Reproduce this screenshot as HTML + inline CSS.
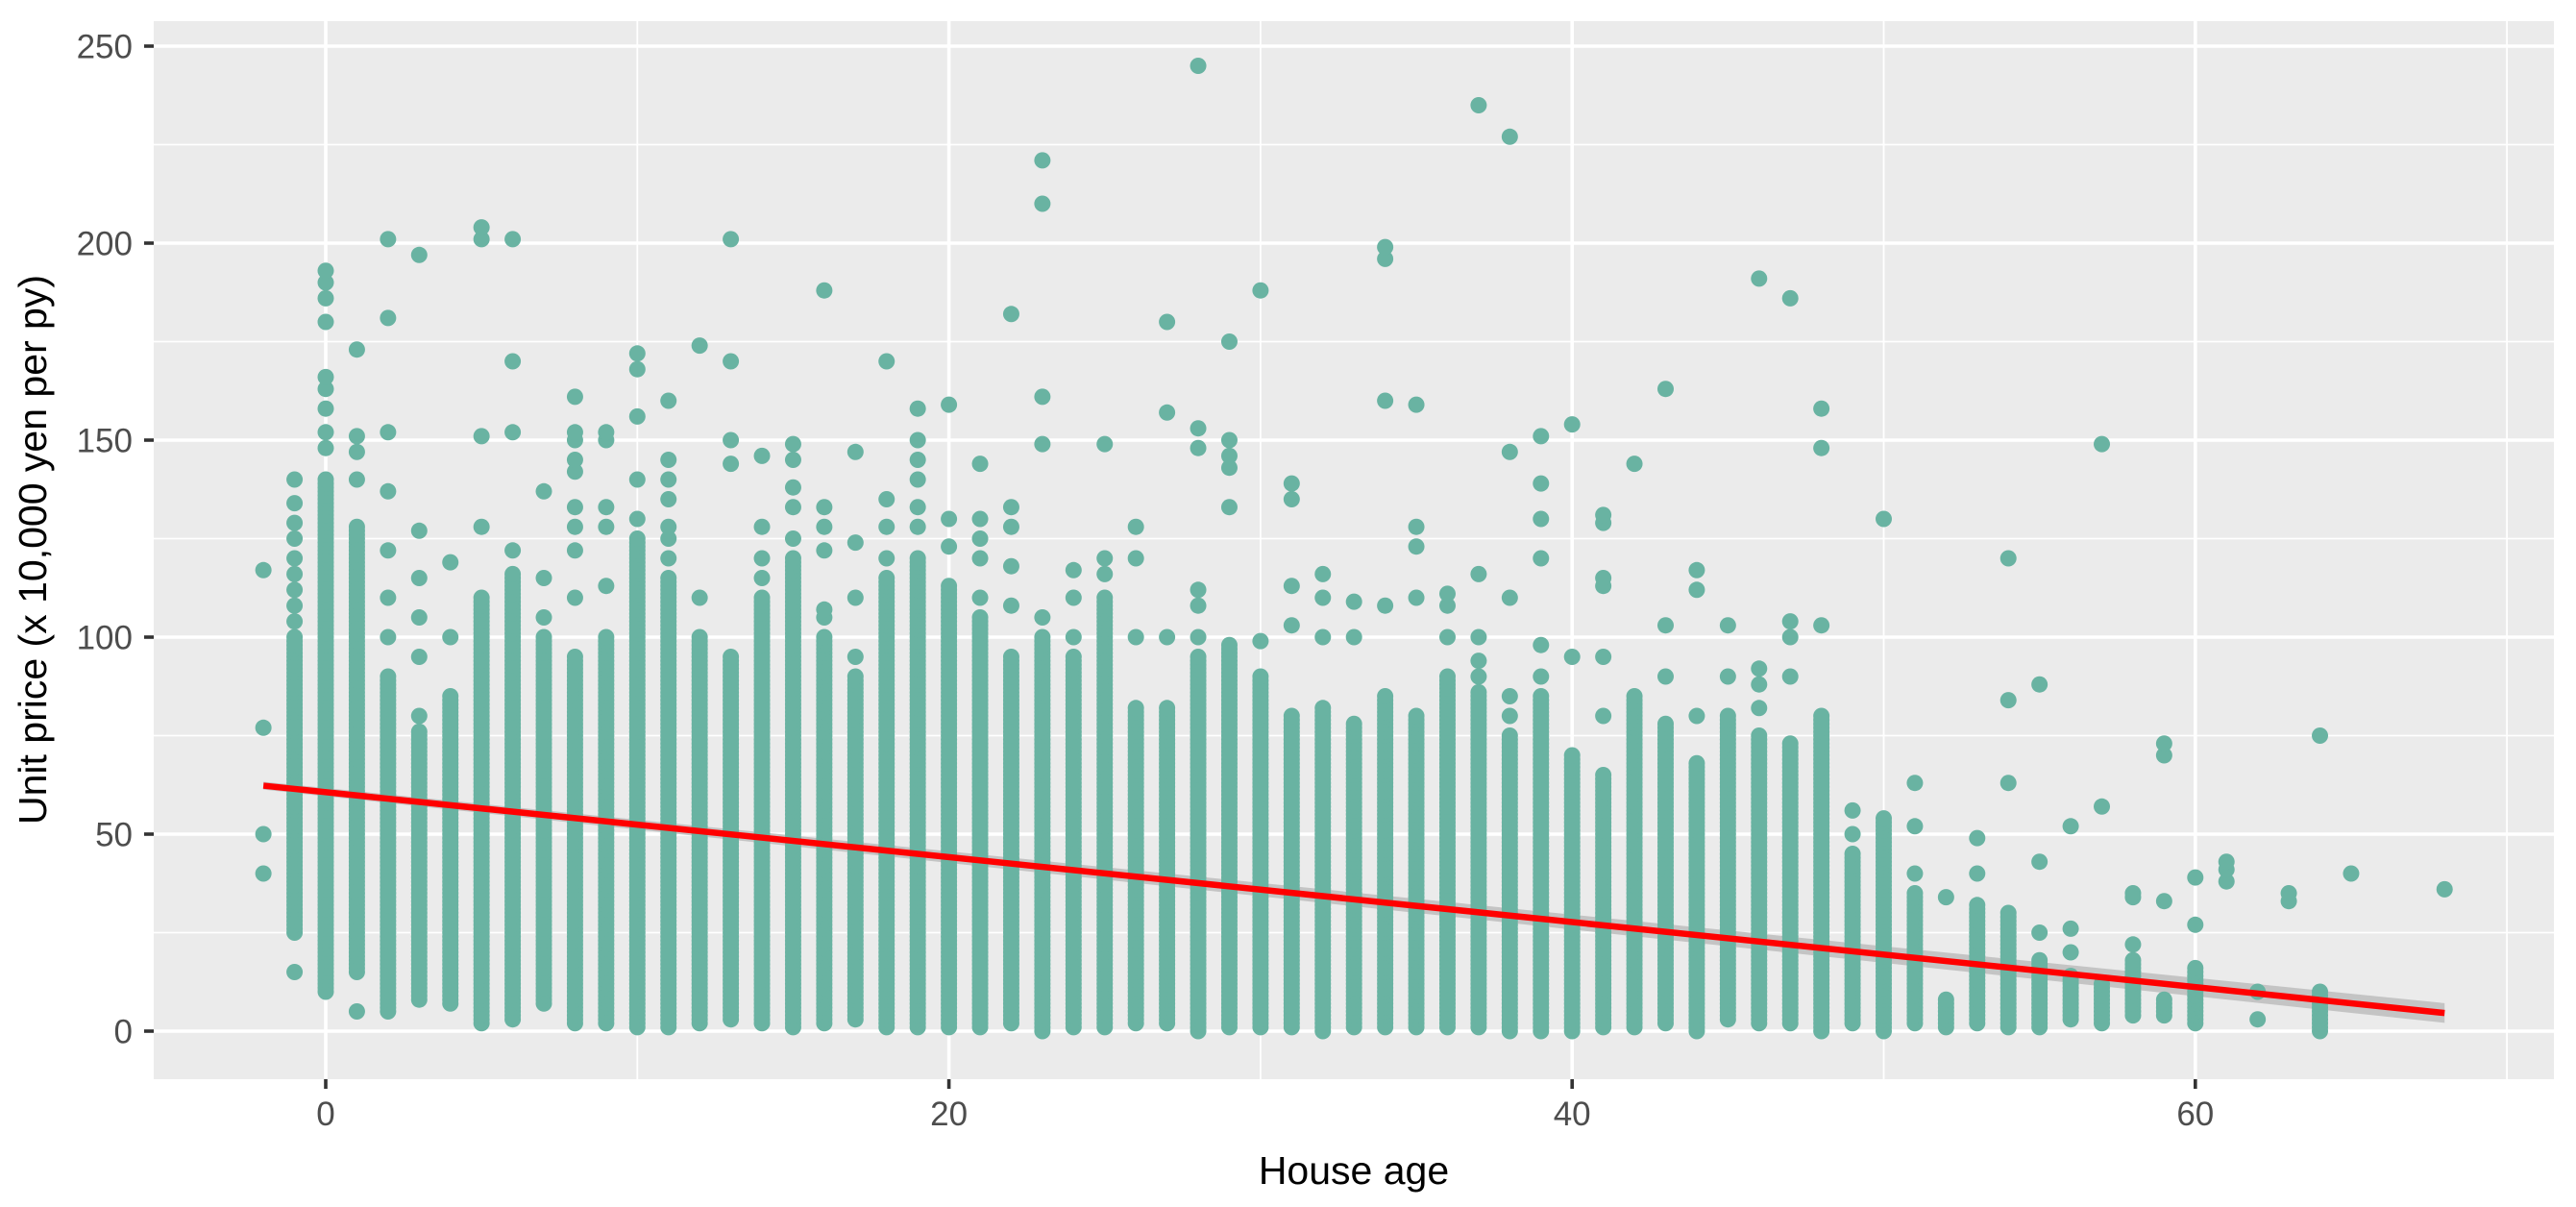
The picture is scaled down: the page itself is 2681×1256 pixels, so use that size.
<!DOCTYPE html>
<html><head><meta charset="utf-8">
<style>
html,body{margin:0;padding:0;background:#fff;}
svg{display:block;font-family:"Liberation Sans",Arial,sans-serif;}
</style></head>
<body>
<svg id="chart" width="2681" height="1256" viewBox="0 0 2681 1256" xmlns="http://www.w3.org/2000/svg">
<rect x="160" y="22" width="2498" height="1101" fill="#ebebeb"/>
<g id="grid"></g>
<g id="band"></g>
<g id="pts"></g>
<g id="fit"></g>
<g id="axes"></g>
<text x="1409" y="1232" text-anchor="middle" font-size="41" fill="#000">House age</text>
<text transform="translate(48,572) rotate(-90)" text-anchor="middle" font-size="41" fill="#000">Unit price (x 10,000 yen per py)</text>
</svg>
<script>
// ---- data ----
const ages = [-2,-1,0,1,2,3,4,5,6,7,8,9,10,11,12,13,14,15,16,17,18,19,20,21,22,23,24,25,26,27,28,29,30,31,32,33,34,35,36,37,38,39,40,41,42,43,44,45,46,47,48,49,50,51,52,53,54,55,56,57,58,59,60,61,62,63,64,65,68];
const runLow = [null,25,10,15,5,8,7,2,3,7,2,2,1,1,2,3,2,1,2,3,1,1,1,1,2,0,1,1,2,2,0,1,1,1,0,1,1,1,1,1,0,0,0,1,1,2,0,3,2,2,0,2,0,2,1,2,1,1,3,2,4,4,2,null,null,null,0,null,null];
const runHigh = [null,100,140,128,90,76,85,110,116,100,95,100,125,115,100,95,110,120,100,90,115,120,113,105,95,100,95,110,82,82,95,98,90,80,82,78,85,80,90,86,75,85,70,65,85,78,68,80,75,73,80,45,54,35,8,32,30,18,14,12,18,8,16,null,null,null,10,null,null];
const extras = [
 [117,77,50,40],
 [15,104,108,112,116,120,125,129,134,140],
 [148,152,158,163,166,180,186,190,193],
 [5,140,147,151,173],
 [100,110,122,137,152,181,201],
 [80,95,105,115,127,197],
 [100,119],
 [128,151,201,204],
 [122,152,170,201],
 [105,115,137],
 [110,122,128,133,142,145,150,152,161],
 [113,128,133,150,152],
 [130,140,156,168,172],
 [120,125,128,135,140,145,160],
 [110,174],
 [144,150,170,201],
 [115,120,128,146],
 [125,133,138,145,149],
 [105,107,122,128,133,188],
 [95,110,124,147],
 [120,128,135,170],
 [128,133,140,145,150,158],
 [123,130,159],
 [110,120,125,130,144],
 [108,118,128,133,182],
 [105,149,161,210,221],
 [100,110,117],
 [116,120,149],
 [100,120,128],
 [100,157,180],
 [100,108,112,148,153,245],
 [133,143,146,150,175],
 [99,188],
 [103,113,135,139],
 [100,110,116],
 [100,109],
 [108,160,196,199],
 [110,123,128,159],
 [100,108,111],
 [90,94,100,116,235],
 [80,85,110,147,227],
 [90,98,120,130,139,151],
 [95,154],
 [80,95,113,115,129,131],
 [144],
 [90,103,163],
 [80,112,117],
 [90,103],
 [82,88,92,191],
 [90,100,104,186],
 [103,148,158],
 [50,56],
 [130],
 [40,52,63],
 [34],
 [40,49],
 [63,84,120],
 [25,43,88],
 [20,26,52],
 [57,149],
 [22,34,35],
 [33,70,73],
 [27,39],
 [38,41,43],
 [3,10],
 [33,35],
 [75],
 [40],
 [36]
];
const fitX = [-2, 68];
const fitY = [62.3, 4.6];
const fitSE = [1.0, 2.5];
const xTicks = [0,20,40,60];
const xMinor = [-10,10,30,50,70];
const yTicks = [0,50,100,150,200,250];
const yMinor = [25,75,125,175,225];

// ---- scales ----
const PL=160, PR=2658, PT=22, PB=1123;
const sx = v => 339 + v*32.43;
const sy = v => 1073 - v*4.1;
const NS='http://www.w3.org/2000/svg';
function mk(tag, attrs, parent){const e=document.createElementNS(NS,tag);for(const k in attrs)e.setAttribute(k,attrs[k]);parent.appendChild(e);return e;}

const grid=document.getElementById('grid');
yMinor.forEach(v=>{const l=mk('line',{x1:PL,x2:PR,y1:sy(v),y2:sy(v),stroke:'#fff','stroke-width':1.8},grid);

});
xMinor.forEach(v=>{const x=sx(v); if(x<PL||x>PR)return; const l=mk('line',{x1:x,x2:x,y1:PT,y2:PB,stroke:'#fff','stroke-width':1.8},grid);

});
yTicks.forEach(v=>{const l=mk('line',{x1:PL,x2:PR,y1:sy(v),y2:sy(v),stroke:'#fff','stroke-width':3.6},grid);

});
xTicks.forEach(v=>{const l=mk('line',{x1:sx(v),x2:sx(v),y1:PT,y2:PB,stroke:'#fff','stroke-width':3.6},grid);

});

// confidence band
const band=document.getElementById('band');
const bp=[[fitX[0],fitY[0]+fitSE[0]],[fitX[1],fitY[1]+fitSE[1]],[fitX[1],fitY[1]-fitSE[1]],[fitX[0],fitY[0]-fitSE[0]]].map(p=>sx(p[0])+','+sy(p[1])).join(' ');
const bpoly=mk('polygon',{points:bp,fill:'#c4c4c4'},band);



// points
const pts=document.getElementById('pts');
const COL='#69b3a2', R=8.5;
ages.forEach((a,i)=>{
  const x=sx(a);
  if(runLow[i]!==null){
    for(let v=runLow[i]; v<=runHigh[i]; v+=1){
      const c=mk('circle',{cx:x,cy:sy(v),r:R,fill:COL},pts);
      
      
    }
  }
  extras[i].forEach(v=>{
    const c=mk('circle',{cx:x,cy:sy(v),r:R,fill:COL},pts);
    
    
  });
});

// regression line
const fit=document.getElementById('fit');
const fl=mk('line',{x1:sx(fitX[0]),y1:sy(fitY[0]),x2:sx(fitX[1]),y2:sy(fitY[1]),stroke:'#ff0000','stroke-width':6.5},fit);



// axes
const axes=document.getElementById('axes');
yTicks.forEach(v=>{
  const t=mk('line',{x1:PL-10,x2:PL,y1:sy(v),y2:sy(v),stroke:'#333','stroke-width':3.6},axes);
  
  
  const tx=mk('text',{x:PL-22,y:sy(v)+12.5,'text-anchor':'end','font-size':35,fill:'#4d4d4d'},axes);
  tx.textContent=v;
  
  
});
xTicks.forEach(v=>{
  const t=mk('line',{x1:sx(v),x2:sx(v),y1:PB,y2:PB+10,stroke:'#333','stroke-width':3.6},axes);
  
  
  const tx=mk('text',{x:sx(v),y:PB+48,'text-anchor':'middle','font-size':35,fill:'#4d4d4d'},axes);
  tx.textContent=v;
  
  
});
</script>
</body></html>
